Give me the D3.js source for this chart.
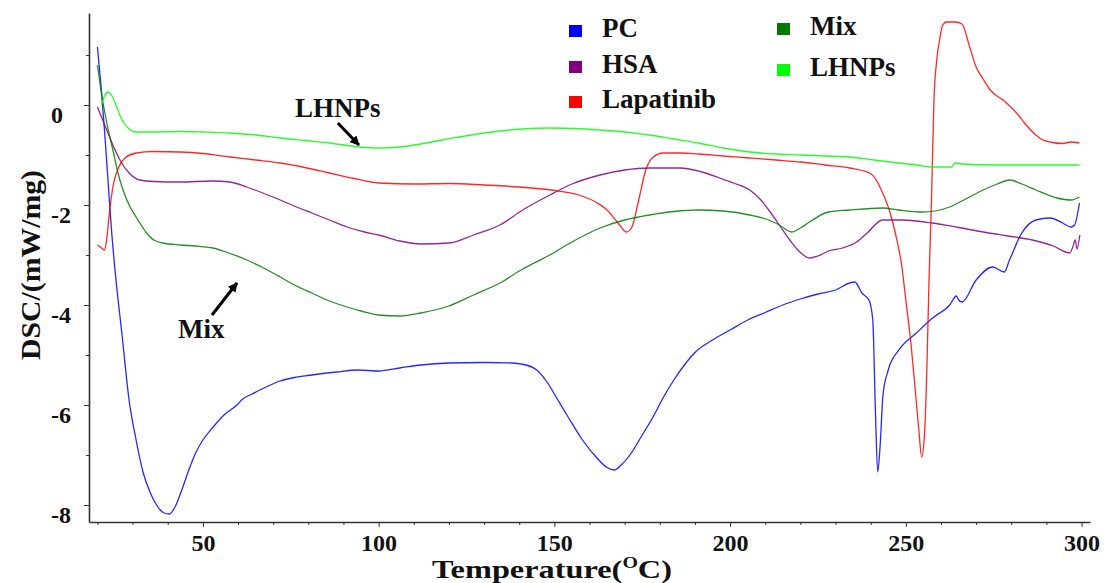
<!DOCTYPE html>
<html>
<head>
<meta charset="utf-8">
<script src="https://cdn.jsdelivr.net/npm/d3@7"></script>
<style>
  html, body { margin: 0; padding: 0; background: #fff; }
  svg { display: block; }
</style>
</head>
<body>
<div id="chart"></div>
<script>
// DSC thermograms: [temperature °C, DSC mW/mg]
const pcData = [
  [20, 1.16], [21, 0.4], [22, -0.5], [23, -1.5], [24, -2.5], [25, -3.3], [27, -4.6], [29, -5.9],
  [31, -6.7], [33, -7.35], [35, -7.75], [37, -8.02], [39, -8.16], [40.5, -8.18], [42, -8.05],
  [44, -7.7], [46, -7.3], [48, -6.95], [50, -6.7], [52.8, -6.45], [56, -6.2], [60, -5.98],
  [61, -5.9], [64, -5.78], [68, -5.64], [72, -5.52], [76, -5.45], [81, -5.4], [88, -5.34],
  [94, -5.3], [100, -5.32], [106, -5.26], [112, -5.2], [120, -5.16], [130, -5.15], [138, -5.16],
  [142, -5.2], [145, -5.3], [148, -5.55], [151, -5.9], [154, -6.25], [158, -6.7], [162, -7.05],
  [165, -7.25], [167, -7.3], [169, -7.2], [172, -6.95], [175, -6.6], [178, -6.25], [181, -5.85],
  [184, -5.5], [187, -5.2], [190, -4.95], [195, -4.7], [200, -4.5], [205, -4.3], [210, -4.15],
  [215, -4.0], [220, -3.88], [225, -3.78], [230, -3.7], [234, -3.56], [235.5, -3.54],
  [237.5, -3.76], [239.5, -3.9], [240.6, -4.3], [241.3, -6.0], [242, -7.34], [242.7, -6.8],
  [243.5, -5.8], [245, -5.3], [248, -4.9], [253, -4.56], [257.6, -4.26], [262.5, -4.0],
  [264.4, -3.82], [265, -3.9], [266, -3.94], [270, -3.5], [274.7, -3.24], [278, -3.34],
  [279.5, -3.1], [283, -2.56], [287, -2.3], [291, -2.26], [294.6, -2.36], [297, -2.44],
  [298, -2.4], [299.4, -1.96]
];

const hsaData = [
  [20, -0.04], [21.5, -0.3], [23, -0.56], [24.7, -0.85], [26.4, -1.1], [29, -1.36], [32, -1.5],
  [36, -1.53], [43.5, -1.54], [52.8, -1.52], [57.7, -1.54], [62.5, -1.64], [67, -1.76],
  [72, -1.9], [76, -2.02], [81, -2.16], [86, -2.3], [91, -2.44], [96, -2.54], [100, -2.6],
  [106, -2.72], [112, -2.78], [120, -2.76], [127, -2.6], [134.5, -2.4], [141, -2.1],
  [148.7, -1.8], [155, -1.58], [163, -1.4], [170, -1.3], [177, -1.26], [185.7, -1.26],
  [192, -1.34], [197, -1.46], [201, -1.56], [205.6, -1.7], [208.5, -1.88], [211, -2.1],
  [214, -2.4], [217, -2.7], [220, -2.95], [222.6, -3.06], [225, -3.02], [228, -2.92],
  [232, -2.86], [236, -2.74], [239, -2.56], [243.4, -2.3], [249, -2.3], [257.6, -2.36],
  [265, -2.45], [272, -2.54], [279, -2.62], [286, -2.7], [292, -2.82], [296.6, -2.96],
  [297.5, -2.84], [298.2, -2.7], [298.7, -2.88], [299.5, -2.6]
];

const lapatinibData = [
  [20, -2.8], [21, -2.85], [22, -2.9], [22.6, -2.7], [23.5, -2.1], [24.5, -1.6], [26, -1.25],
  [28, -1.05], [31, -0.96], [36, -0.93], [43.5, -0.94], [50, -0.97], [57.7, -1.04], [65, -1.1],
  [72, -1.16], [79, -1.25], [86, -1.36], [93, -1.47], [100, -1.56], [110, -1.58], [120, -1.57],
  [130, -1.6], [140, -1.64], [149, -1.7], [157, -1.8], [162, -1.95], [165, -2.1], [168, -2.35],
  [170.5, -2.54], [172, -2.45], [174, -1.9], [176, -1.3], [178, -1.05], [181, -0.96],
  [186, -0.96], [191, -0.98], [198, -1.02], [205.6, -1.06], [213, -1.1], [220, -1.14],
  [227, -1.2], [234, -1.26], [239.7, -1.36], [242, -1.55], [243.4, -1.76], [245.5, -2.15],
  [247, -2.56], [248.8, -3.2], [250, -3.9], [251.5, -4.8], [252.5, -5.56], [253.7, -6.5],
  [254.5, -7.04], [255.3, -6.6], [256, -5.24], [256.6, -3.5], [257.3, -1.9], [258, 0.1],
  [258.8, 0.9], [259.6, 1.3], [260.5, 1.6], [261.5, 1.66], [264, 1.66], [266, 1.62], [268, 1.2],
  [270, 0.76], [272, 0.52], [274, 0.3], [278, 0.08], [281.5, -0.16], [284, -0.38], [287, -0.6],
  [289, -0.7], [291, -0.74], [294.6, -0.77], [297, -0.74], [299.4, -0.76]
];

const mixData = [
  [20, 0.8], [21, 0.3], [22.5, -0.3], [24.4, -0.9], [26, -1.4], [27, -1.64], [29, -2.0],
  [31, -2.24], [34, -2.56], [36, -2.7], [38.6, -2.76], [43.5, -2.8], [48, -2.82], [52.8, -2.86],
  [57, -2.95], [62.5, -3.1], [67, -3.25], [72, -3.44], [76, -3.6], [81, -3.76], [86, -3.92],
  [91, -4.04], [95, -4.12], [100, -4.2], [106, -4.22], [112, -4.16], [120, -4.02], [127, -3.8],
  [134.5, -3.56], [141, -3.28], [148.7, -3.0], [155, -2.74], [163, -2.46], [170, -2.3],
  [177, -2.2], [184, -2.13], [191, -2.1], [198, -2.12], [205.6, -2.2], [211, -2.3], [214, -2.4],
  [217.5, -2.54], [220, -2.46], [222.6, -2.34], [228, -2.14], [234, -2.1], [243.4, -2.06],
  [248, -2.1], [254.8, -2.14], [262.5, -2.04], [267, -1.88], [272, -1.7], [276, -1.58],
  [279.5, -1.5], [283, -1.58], [287, -1.7], [293, -1.86], [297, -1.9], [299.4, -1.84]
];

const lhnpData = [
  [21.2, 0.0], [22, 0.18], [23, 0.26], [24, 0.2], [25, 0.05], [27, -0.3], [29, -0.48],
  [31, -0.54], [35, -0.54], [43.5, -0.53], [50, -0.54], [57.7, -0.56], [65, -0.6], [72, -0.66],
  [79, -0.71], [86, -0.76], [94.6, -0.84], [100, -0.86], [106, -0.84], [112, -0.78], [118, -0.7],
  [123, -0.64], [129, -0.57], [134.5, -0.52], [141, -0.48], [148.7, -0.46], [156, -0.47],
  [163, -0.5], [170, -0.54], [177, -0.6], [184, -0.68], [191, -0.76], [198, -0.86],
  [205.6, -0.94], [213, -0.98], [220, -1.0], [227, -1.02], [234, -1.04], [241, -1.1],
  [248, -1.16], [253, -1.2], [257.6, -1.24], [263, -1.24], [264, -1.16], [266, -1.18],
  [275, -1.2], [290, -1.2], [299.4, -1.2]
];

const seriesNames = ['PC', 'HSA', 'Lapatinib', 'Mix', 'LHNPs'];
const seriesColors = ['#0000ff', '#800080', '#ff0000', '#007a00', '#00ff00'];
const seriesData = [pcData, hsaData, lapatinibData, mixData, lhnpData];

const xTicks = d3.range(20, 301, 10);
const xLabels = [50, 100, 150, 200, 250, 300];
const yTicks = d3.range(-8, 2, 1);
const yLabels = [0, -2, -4, -6, -8];

// curve call-outs: label position and arrow [from, to] in data units
const callouts = [
  { label: 'LHNPs', at: [76.2, -0.24], from: [88.4, -0.36], to: [94.4, -0.8] },
  { label: 'Mix', at: [42.9, -4.66], from: [52.6, -4.2], to: [59.7, -3.56] },
];

const FONT = '"Liberation Serif", "Times New Roman", Times, serif';
const W = 1107, H = 583;
const PLOT = { left: 89, right: 1090, top: 13, bottom: 522 };

const svg = d3.select('#chart').append('svg')
  .attr('width', W)
  .attr('height', H)
  .attr('font-family', FONT)
  .attr('font-weight', 'bold');

const x = d3.scaleLinear().domain([17.6, 302.4]).range([PLOT.left, PLOT.right]);
const y = d3.scaleLinear().domain([-8.34, 1.84]).range([PLOT.bottom, PLOT.top]);

svg.append('defs').append('marker')
  .attr('id', 'arrow')
  .attr('viewBox', '0 0 10 10')
  .attr('refX', 9).attr('refY', 5)
  .attr('markerWidth', 3.2).attr('markerHeight', 3.2)
  .attr('orient', 'auto')
  .append('path')
  .attr('d', 'M0,0 L10,5 L0,10 z')
  .attr('fill', '#000');

// X axis
const xAxis = svg.append('g')
  .attr('transform', `translate(0,${PLOT.bottom})`)
  .call(d3.axisBottom(x)
    .tickValues(xTicks)
    .tickSizeOuter(0)
    .tickFormat(d => xLabels.includes(d) ? d : ''));
xAxis.select('.domain').attr('stroke', '#333').attr('stroke-width', 1.6);
xAxis.selectAll('.tick line')
  .attr('stroke', '#333')
  .attr('y2', d => xLabels.includes(d) ? 5 : 3);
xAxis.selectAll('.tick text')
  .attr('y', 12)
  .attr('font-size', 24)
  .attr('font-family', FONT)
  .attr('font-weight', 'bold')
  .attr('fill', '#111');

// Y axis (labels sit a little below their ticks and are left-aligned, as in the original)
const yAxis = svg.append('g')
  .attr('transform', `translate(${PLOT.left},0)`)
  .call(d3.axisLeft(y)
    .tickValues(yTicks)
    .tickSizeOuter(0)
    .tickFormat(d => yLabels.includes(d) ? d : ''));
yAxis.select('.domain').attr('stroke', '#333').attr('stroke-width', 1.6);
yAxis.selectAll('.tick line')
  .attr('stroke', '#333')
  .attr('x2', d => yLabels.includes(d) ? -5 : -3);
yAxis.selectAll('.tick text')
  .attr('x', -38)
  .attr('text-anchor', 'start')
  .attr('dy', '0.35em')
  .attr('transform', 'translate(0,9)')
  .attr('font-size', 24)
  .attr('font-family', FONT)
  .attr('font-weight', 'bold')
  .attr('fill', '#111');

// Axis titles
const xTitle = svg.append('text')
  .attr('x', 552)
  .attr('y', 578)
  .attr('text-anchor', 'middle')
  .attr('font-size', 26)
  .attr('fill', '#111')
  .attr('textLength', 240)
  .attr('lengthAdjust', 'spacingAndGlyphs');
xTitle.append('tspan').text('Temperature(');
xTitle.append('tspan').attr('font-size', 16).attr('dy', -10).text('O');
xTitle.append('tspan').attr('dy', 10).text('C)');

svg.append('text')
  .attr('transform', 'translate(40,265) rotate(-90)')
  .attr('text-anchor', 'middle')
  .attr('font-size', 28)
  .attr('fill', '#111')
  .attr('textLength', 190)
  .attr('lengthAdjust', 'spacingAndGlyphs')
  .text('DSC/(mW/mg)');

// Curves
const line = d3.line()
  .x(d => x(d[0]))
  .y(d => y(d[1]))
  .curve(d3.curveMonotoneX);

svg.append('g')
  .selectAll('path')
  .data(seriesData)
  .join('path')
  .attr('d', line)
  .attr('fill', 'none')
  .attr('stroke', (d, i) => seriesColors[i])
  .attr('stroke-width', 1.3)
  .attr('stroke-opacity', 0.85)
  .attr('stroke-linejoin', 'round');

// Call-outs
const co = svg.append('g');
co.selectAll('text')
  .data(callouts)
  .join('text')
  .attr('x', d => x(d.at[0]))
  .attr('y', d => y(d.at[1]))
  .attr('font-size', 27)
  .attr('fill', '#111')
  .text(d => d.label);
co.selectAll('line')
  .data(callouts)
  .join('line')
  .attr('x1', d => x(d.from[0])).attr('y1', d => y(d.from[1]))
  .attr('x2', d => x(d.to[0])).attr('y2', d => y(d.to[1]))
  .attr('stroke', '#000')
  .attr('stroke-width', 3)
  .attr('marker-end', 'url(#arrow)');

// Legend (two columns)
const legendPos = [[569, 37], [569, 73], [569, 108], [777, 35], [777, 76]];
const legend = svg.append('g')
  .selectAll('g')
  .data(seriesNames)
  .join('g')
  .attr('transform', (d, i) => `translate(${legendPos[i][0]},${legendPos[i][1]})`);
legend.append('rect')
  .attr('x', 0).attr('y', -12)
  .attr('width', 13).attr('height', 12)
  .attr('fill', (d, i) => seriesColors[i]);
legend.append('text')
  .attr('x', 33)
  .attr('y', 0)
  .attr('font-size', 27)
  .attr('fill', '#111')
  .text(d => d);
</script>
</body>
</html>
